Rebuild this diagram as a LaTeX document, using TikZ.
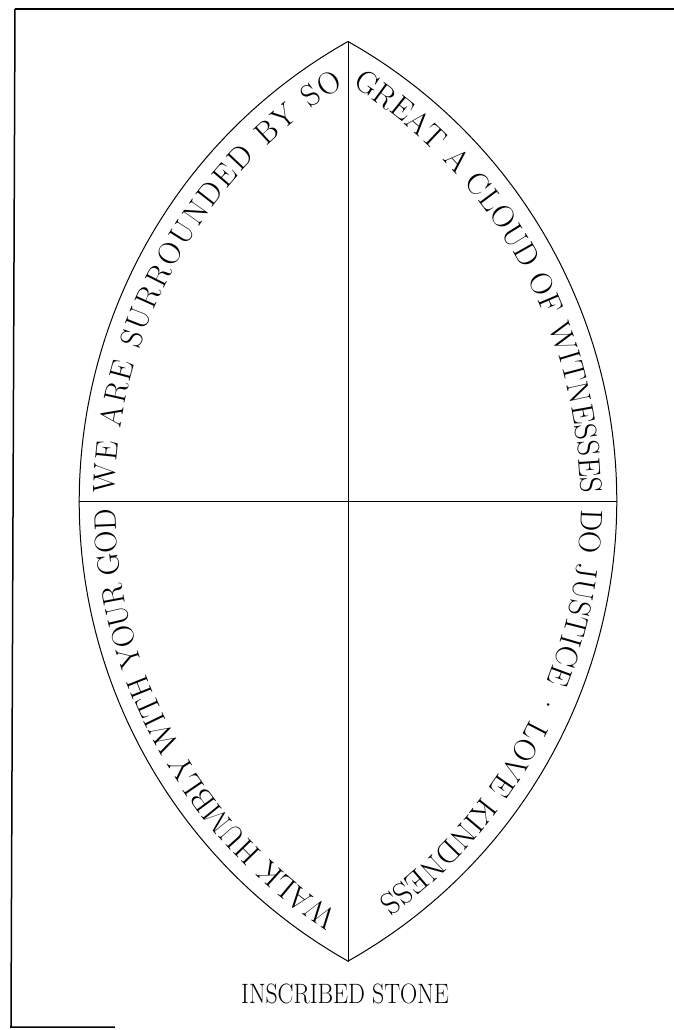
\documentclass[tikz,border=0pt]{standalone}
\usepackage{fontspec}
\usetikzlibrary{decorations.text}

% Police des inscriptions gravées
\newcommand\police{\fontsize{31}{31}\selectfont}

\tikzset{
  trait/.style={line width=1pt},
  cadre/.style={line width=#1},
  inscription/.style n args={3}{decorate,
    decoration={text along path, text={|\police|#1}, raise=-36pt,
      text align={left indent=#2, right indent=#3, fit to path}}},
}

\begin{document}
\begin{tikzpicture}[x=1pt, y=1pt]

  % Cadre de la page (origine au centre de la pierre)
  \useasboundingbox (-348,-528.5) rectangle (326,501.5);

  % Paramètres de la vesica : rayon des arcs, décalage des centres, demi-angle au sommet
  \def\rayon{527.8}
  \def\dec{258.8}
  \def\ang{60.6}

  % Sommets et extrémités de l'axe horizontal
  \coordinate (haut) at (0,460);
  \coordinate (bas) at (0,-460);
  \coordinate (gauche) at (-269,0);
  \coordinate (droite) at (269,0);

  % Bords du cadre (le bas est coupé par la numérisation)
  \coordinate (cadreHG) at (-333,492.5);
  \coordinate (cadreHD) at (326,492.5);
  \coordinate (cadreBG) at (-337,-525.5);
  \coordinate (cadreBD) at (-233,-525.5);
  \draw[cadre=2.5pt] (cadreHG) -- (cadreHD);
  \draw[cadre=1.5pt] (cadreHG) -- (cadreBG) -- (cadreBD);

  % Contour de la pierre : deux arcs de cercle
  \draw[trait] (haut) arc[start angle=180-\ang, end angle=180+\ang, radius=\rayon]
    arc[start angle=-\ang, end angle=\ang, radius=\rayon] -- cycle;

  % Croix intérieure
  \draw[trait] (haut) -- (bas);
  \draw[trait] (gauche) -- (droite);

  % Inscriptions, dans le sens des aiguilles d'une montre, têtes vers l'extérieur
  \path[inscription={WE ARE SURROUNDED BY SO}{10pt}{28pt}]
    (gauche) arc[start angle=180, end angle=180-\ang, radius=\rayon];
  \path[inscription={GREAT A CLOUD OF WITNESSES}{28pt}{9pt}]
    (haut) arc[start angle=\ang, end angle=0, radius=\rayon];
  \path[inscription={DO JUSTICE · LOVE KINDNESS}{9pt}{61pt}]
    (droite) arc[start angle=0, end angle=-\ang, radius=\rayon];
  \path[inscription={WALK HUMBLY WITH YOUR GOD}{35pt}{9pt}]
    (bas) arc[start angle=180+\ang, end angle=180, radius=\rayon];

  % Légende
  \node[font=\fontsize{28}{28}\selectfont, xscale=0.85] (legende) at (-3,-492) {INSCRIBED STONE};

\end{tikzpicture}
\end{document}
